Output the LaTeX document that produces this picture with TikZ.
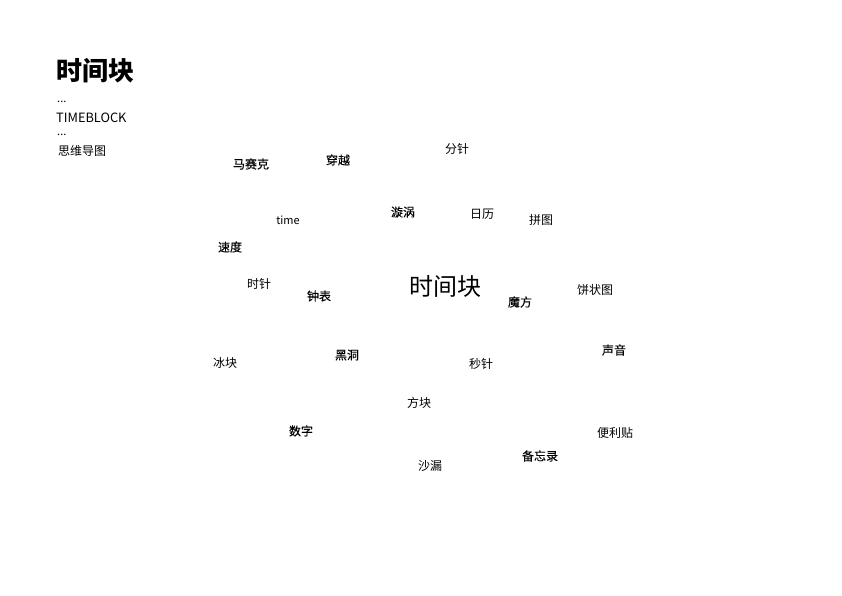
\documentclass[tikz,border=0pt]{standalone}
\usepackage{fontspec}
\setmainfont{Noto Sans CJK SC}
\newfontfamily\semibold[FakeBold=0.2]{Noto Sans CJK SC}
\usepackage{tikz}

\tikzset{
  word/.style={inner sep=0pt,font=\fontsize{12}{12}\selectfont},
  heavy/.style={word,font=\fontsize{12}{12}\selectfont\semibold},
  side/.style={inner sep=0pt,anchor=west}
}

\begin{document}
\begin{tikzpicture}[x=1pt,y=-1pt]
\useasboundingbox (0,0) rectangle (842,596);
% title column
\node[side,font=\fontsize{26}{26}\selectfont\bfseries] (title) at (56,71) {时间块};
\node[side,font=\fontsize{11}{11}\selectfont] (dotsa) at (57,102) {...};
\node[side,font=\fontsize{12.8}{12.8}\selectfont] (eng) at (56,118) {TIMEBLOCK};
\node[side,font=\fontsize{11}{11}\selectfont] (dotsb) at (57,135) {...};
\node[side,font=\fontsize{12}{12}\selectfont] (mind) at (58,151) {思维导图};
% centre
\node[word,font=\fontsize{24}{24}\selectfont] (centre) at (445,286) {时间块};
% upper words
\node[heavy] (mosaic) at (251,164) {马赛克};
\node[heavy] (cross) at (338,160) {穿越};
\node[word] (minute) at (457,149) {分针};
\node[word,font=\fontsize{11}{11}\selectfont] (time) at (288,220) {time};
\node[heavy] (vortex) at (403,212) {漩涡};
\node[word] (calendar) at (482,214) {日历};
\node[word] (puzzle) at (541,220) {拼图};
\node[heavy] (speed) at (230,247) {速度};
% middle words
\node[word] (hour) at (259,284) {时针};
\node[heavy] (clock) at (319,296) {钟表};
\node[heavy] (cube) at (520,302) {魔方};
\node[word] (pie) at (595,290) {饼状图};
% lower words
\node[word] (ice) at (225,363) {冰块};
\node[heavy] (hole) at (347,355) {黑洞};
\node[word] (second) at (481,364) {秒针};
\node[heavy] (sound) at (614,350) {声音};
\node[word] (block) at (419,403) {方块};
\node[heavy] (digit) at (301,431) {数字};
\node[word] (note) at (615,433) {便利贴};
\node[heavy] (memo) at (540,456) {备忘录};
\node[word] (glass) at (430,466) {沙漏};
\end{tikzpicture}
\end{document}
